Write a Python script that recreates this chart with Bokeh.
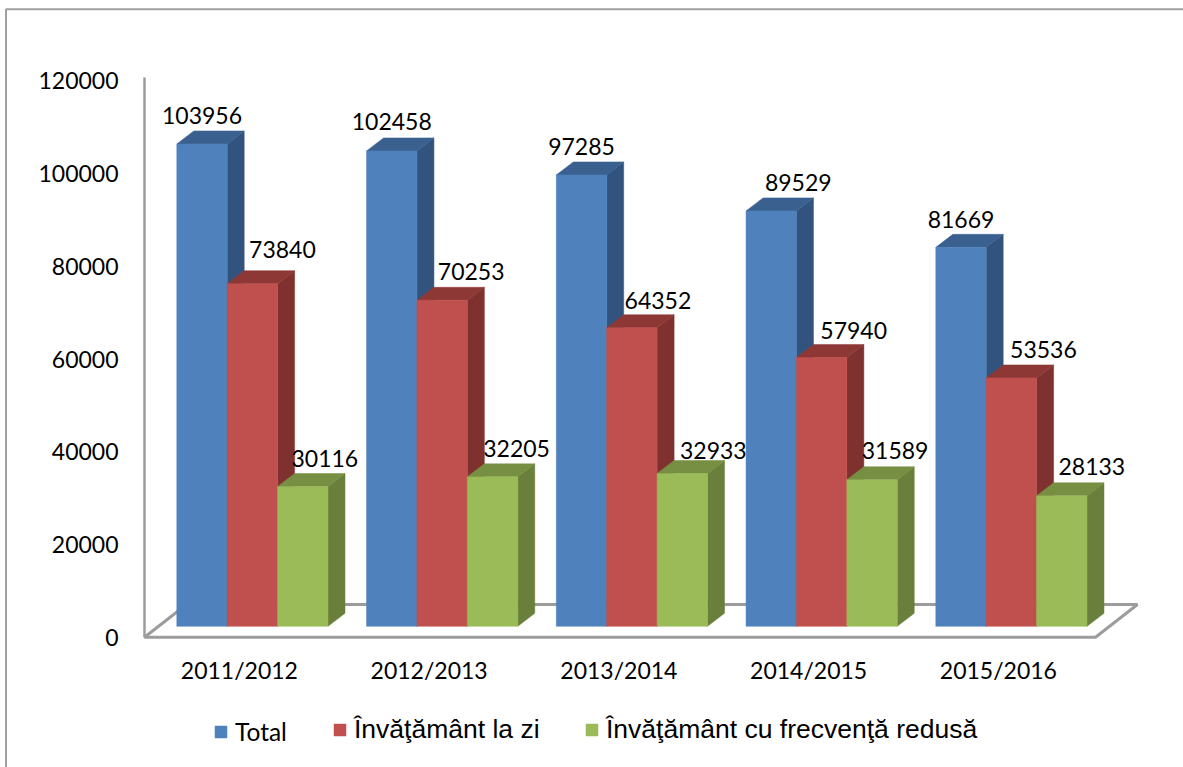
from bokeh.plotting import figure
from bokeh.models import Range1d, FixedTicker, Legend, LegendItem, ColumnDataSource
from bokeh.core.properties import value
from bokeh.embed import file_html
from bokeh.resources import INLINE

categories = ["2011/2012", "2012/2013", "2013/2014", "2014/2015", "2015/2016"]
series_names = ["Total", "Învăţământ la zi", "Învăţământ cu frecvenţă redusă"]
total = [103956, 102458, 97285, 89529, 81669]
la_zi = [73840, 70253, 64352, 57940, 53536]
redusa = [30116, 32205, 32933, 31589, 28133]
y_ticks = [0, 20000, 40000, 60000, 80000, 100000, 120000]

W, H = 1183, 767
PX_Y = 0.00464
PX_X = 189.75
X0, Y0 = 144, 637

def dx(px):
    return (px - X0) / PX_X

def dy(px):
    return (Y0 - px) / PX_Y

def wx(px):
    return px / PX_X

def wy(px):
    return px / PX_Y

FONT = "Lato"
FS = "23px"
GREY = "#A0A0A0"

p = figure(width=W, height=H, output_backend="svg", toolbar_location=None,
           min_border=0, x_range=Range1d(dx(0), dx(W)), y_range=Range1d(dy(H), dy(0)),
           background_fill_color="white", border_fill_color="white")
p.grid.visible = False
p.outline_line_color = None

# chart border
p.line([dx(5.5), dx(5.5), dx(W)], [dy(H), dy(8.7), dy(8.7)], line_color=GREY, line_width=2)

# floor and axis wall
BASE = wy(11.2)
DEPTH_X, DEPTH_Y = wx(17), wy(13)
fx = [dx(144), dx(1095), dx(1137), dx(186)]
fy = [dy(636.7), dy(636.7), dy(604), dy(604)]
p.line(fx + fx[:2], fy + fy[:2], line_color="#9C9C9C", line_width=3)
p.line([dx(144), dx(144)], [0, dy(77)], line_color="#9C9C9C", line_width=2.5)

BAR_START = wx(32.3)
BAR_W = wx(50.4)
colors = ["#4F81BD", "#C0504D", "#9BBB59"]
sides = ["#33537F", "#7F3130", "#697F3B"]
tops = ["#3A6090", "#8E3836", "#768F43"]
all_vals = [total, la_zi, redusa]

label_dx = [[0, 0, 0, 27, 0], [30, 29, 26, 32, 32], [22, 24, 31, 23, 30]]
label_dy = [[28, 29, 28, 28, 28], [34, 29, 27, 27, 28], [28, 28, 23, 29, 29]]

fronts = []
for j, vals in enumerate(all_vals):
    lefts = [BAR_START + i + j * BAR_W for i in range(len(vals))]
    rights = [l + BAR_W for l in lefts]
    tv = [v + BASE for v in vals]
    p.patches([[r, r + DEPTH_X, r + DEPTH_X, r] for r in rights],
              [[BASE, BASE + DEPTH_Y, t + DEPTH_Y, t] for t in tv],
              fill_color=sides[j], line_color=sides[j], line_width=0.5)
    p.patches([[l, r, r + DEPTH_X, l + DEPTH_X] for l, r in zip(lefts, rights)],
              [[t, t, t + DEPTH_Y, t + DEPTH_Y] for t in tv],
              fill_color=tops[j], line_color=tops[j], line_width=0.5)
    r = p.quad(left=lefts, right=rights, bottom=BASE, top=tv,
               fill_color=colors[j], line_color=colors[j], line_width=0.5)
    fronts.append(r)

for j, vals in enumerate(all_vals):
    src = ColumnDataSource(dict(
        x=[BAR_START + i + (j + 0.5) * BAR_W for i in range(len(vals))],
        y=[v + BASE for v in vals],
        t=[str(v) for v in vals],
        xo=label_dx[j],
        yo=[-d for d in label_dy[j]],
    ))
    p.text("x", "y", text="t", source=src, x_offset="xo", y_offset="yo",
           text_align="center", text_baseline="middle", text_color="black",
           text_font=value(FONT), text_font_size=FS)

# axes, placed inside the page-wide frame
p.xaxis.fixed_location = 0
p.yaxis.fixed_location = dx(144)
for ax in (p.xaxis, p.yaxis):
    ax.axis_line_color = None
    ax.major_tick_line_color = None
    ax.minor_tick_line_color = None
    ax.major_label_text_font = FONT
    ax.major_label_text_font_size = FS
    ax.major_label_text_color = "black"
p.yaxis.ticker = FixedTicker(ticks=y_ticks)
p.yaxis.major_label_standoff = 20
p.yaxis.formatter.use_scientific = False
xt = [i + 0.5 for i in range(len(categories))]
p.xaxis.ticker = FixedTicker(ticks=xt)
p.xaxis.major_label_overrides = {t: c for t, c in zip(xt, categories)}
p.xaxis.major_label_standoff = 12

# legend: one block per entry, since their fonts differ
positions = [(213, 728), (332, 727), (584, 727)]
fonts = [(FONT, "24.5px"), ("Liberation Sans", "26.5px"), ("Liberation Sans", "26.5px")]
for name, r, pos, (fn, fs) in zip(series_names, fronts, positions, fonts):
    leg = Legend(items=[LegendItem(label=value(name), renderers=[r])],
                 location=(pos[0], H - pos[1] - 18), orientation="horizontal",
                 border_line_color=None, background_fill_alpha=0,
                 padding=0, margin=0, spacing=0, glyph_width=15, glyph_height=15,
                 label_standoff=7, label_text_font=fn, label_text_font_size=fs,
                 label_text_color="black")
    p.add_layout(leg, "center")

open("out.html", "w").write(file_html(p, INLINE))
